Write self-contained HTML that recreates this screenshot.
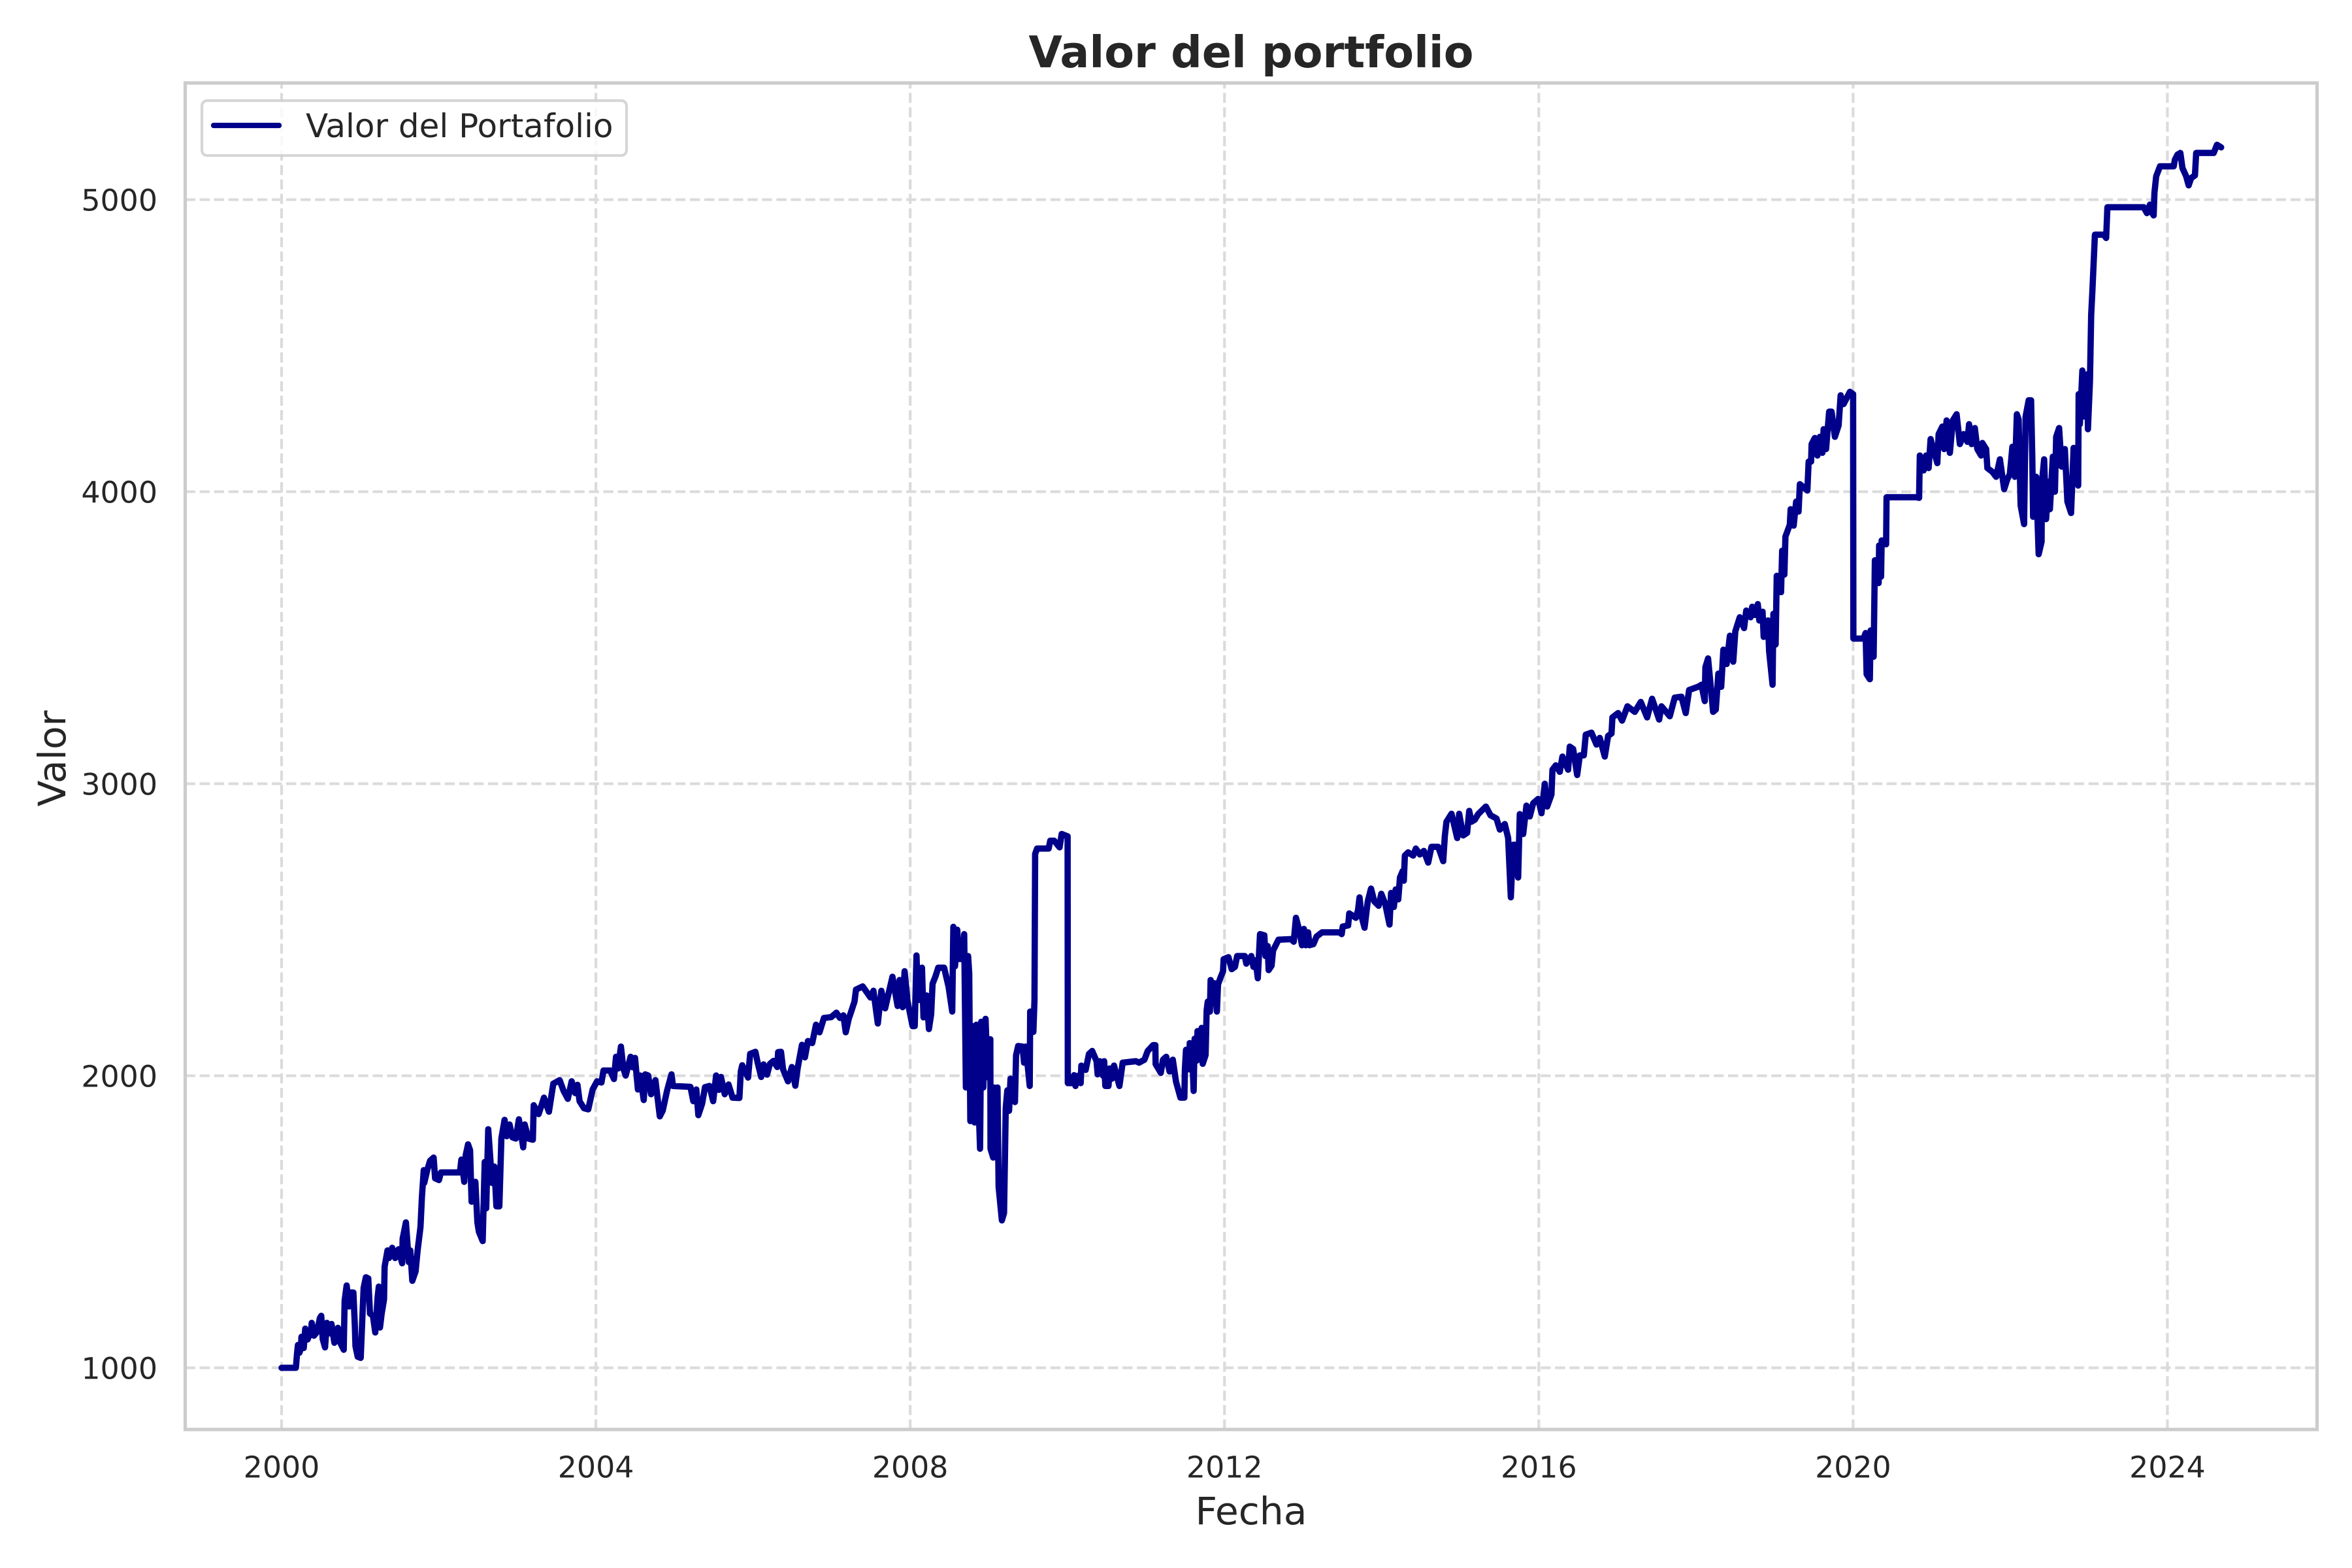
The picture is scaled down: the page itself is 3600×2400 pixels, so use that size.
<!DOCTYPE html>
<html lang="es">
<head>
<meta charset="utf-8">
<title>Valor del portfolio</title>
<style>
html,body{margin:0;padding:0;background:#fff;width:3600px;height:2400px;overflow:hidden}
svg{display:block}
text{font-family:"DejaVu Sans","Liberation Sans",sans-serif;fill:#262626}
</style>
</head>
<body>
<svg id="chart" xmlns="http://www.w3.org/2000/svg" width="3600" height="2400" viewBox="0 0 3600 2400">
  <rect x="0" y="0" width="3600" height="2400" fill="#ffffff"/>
  <g id="grid"></g>
  <path id="series" fill="none" stroke="#00008b" stroke-width="9.6" stroke-linejoin="round" stroke-linecap="round"/>
  <rect x="283.5" y="127" width="3263" height="2061" fill="none" stroke="#cccccc" stroke-width="5.2"/>
  <g id="ticks"></g>
  <text x="1915" y="103" font-size="66.67" font-weight="700" text-anchor="middle">Valor del portfolio</text>
  <text x="1915" y="2333" font-size="58.33" text-anchor="middle">Fecha</text>
  <text transform="translate(100 1161) rotate(-90)" font-size="58.33" text-anchor="middle">Valor</text>
  <g>
    <rect x="309" y="154" width="650" height="84" rx="8" ry="8" fill="#ffffff" fill-opacity="0.8" stroke="#cccccc" stroke-opacity="0.8" stroke-width="4.17"/>
    <line x1="327" y1="192" x2="427" y2="192" stroke="#00008b" stroke-width="8.33" stroke-linecap="round"/>
    <text x="468" y="210" font-size="50">Valor del Portafolio</text>
  </g>
</svg>
<script>
const fechas = [
2000.000,2000.182,2000.197,2000.208,2000.227,2000.245,2000.253,2000.282,2000.301,2000.331,2000.375,2000.383,2000.412,2000.449,2000.487,2000.505,2000.524,2000.553,2000.576,2000.617,2000.635,2000.672,2000.717,2000.747,2000.791,2000.802,2000.828,2000.858,2000.877,2000.914,2000.932,2000.940,2000.969,
2001.007,2001.025,2001.044,2001.073,2001.103,2001.125,2001.162,2001.192,2001.222,2001.237,2001.252,2001.274,2001.304,2001.311,2001.348,2001.367,2001.408,2001.445,2001.489,2001.534,2001.541,2001.582,2001.619,2001.638,2001.664,2001.705,2001.731,2001.768,2001.786,2001.809,2001.816,2001.853,2001.890,2001.935,2001.954,
2002.002,2002.028,2002.269,2002.288,2002.325,2002.344,2002.373,2002.399,2002.418,2002.466,2002.492,2002.511,2002.559,2002.585,2002.604,2002.630,2002.678,2002.708,2002.734,2002.771,2002.797,2002.838,2002.864,2002.901,2002.938,2002.982,
2003.020,2003.075,2003.094,2003.142,2003.198,2003.209,2003.272,2003.339,2003.402,2003.458,2003.539,2003.588,2003.643,2003.692,2003.736,2003.766,2003.792,2003.848,2003.903,2003.959,
2004.015,2004.071,2004.097,2004.182,2004.230,2004.256,2004.282,2004.319,2004.349,2004.379,2004.442,2004.468,2004.498,2004.535,2004.565,2004.609,2004.628,2004.665,2004.702,2004.758,2004.813,2004.851,2004.906,2004.962,2004.981,
2005.203,2005.240,2005.278,2005.304,2005.352,2005.389,2005.445,2005.493,2005.530,2005.566,2005.592,2005.640,2005.688,2005.740,2005.826,2005.844,2005.863,2005.937,2005.963,
2006.030,2006.059,2006.104,2006.134,2006.178,2006.215,2006.260,2006.308,2006.319,2006.356,2006.382,2006.445,2006.494,2006.538,2006.568,2006.623,2006.660,2006.698,2006.753,2006.801,2006.846,2006.902,2006.994,
2007.061,2007.106,2007.150,2007.180,2007.217,2007.291,2007.310,2007.395,2007.495,2007.532,2007.588,2007.633,2007.681,2007.774,2007.840,2007.866,2007.904,2007.929,2007.967,
2008.030,2008.058,2008.080,2008.100,2008.119,2008.150,2008.169,2008.211,2008.238,2008.266,2008.285,2008.321,2008.357,2008.432,2008.488,2008.535,2008.549,2008.571,2008.599,2008.618,2008.668,2008.687,2008.709,2008.737,2008.751,2008.765,2008.792,2008.820,2008.842,2008.862,2008.889,2008.903,2008.931,2008.959,2008.986,
2009.020,2009.022,2009.056,2009.070,2009.083,2009.111,2009.125,2009.167,2009.194,2009.216,2009.236,2009.258,2009.277,2009.333,2009.347,2009.374,2009.430,2009.449,2009.471,2009.521,2009.527,2009.568,2009.582,2009.590,2009.615,2009.762,2009.782,2009.832,2009.901,2009.928,
2010.003,2010.006,2010.053,2010.086,2010.103,2010.136,2010.170,2010.178,2010.233,2010.275,2010.316,2010.372,2010.386,2010.413,2010.455,2010.469,2010.483,2010.524,2010.538,2010.566,2010.594,2010.663,2010.704,2010.871,2010.912,2010.981,
2011.023,2011.092,2011.120,2011.123,2011.189,2011.217,2011.258,2011.300,2011.342,2011.383,2011.439,2011.489,2011.496,2011.510,2011.551,2011.557,2011.593,2011.607,2011.620,2011.648,2011.656,2011.690,2011.709,2011.723,2011.759,2011.773,2011.787,2011.814,2011.823,2011.842,2011.870,2011.903,2011.917,2011.953,2011.981,2011.989,
2012.050,2012.091,2012.133,2012.161,2012.258,2012.277,2012.341,2012.369,2012.396,2012.424,2012.452,2012.507,2012.521,2012.549,2012.562,2012.599,2012.618,2012.687,2012.848,2012.881,2012.909,2012.950,2012.986,
2013.011,2013.034,2013.064,2013.081,2013.131,2013.172,2013.241,2013.463,2013.491,2013.505,2013.574,2013.588,2013.671,2013.699,2013.718,2013.746,2013.782,2013.823,2013.865,2013.906,2013.962,2013.995,
2014.045,2014.100,2014.120,2014.156,2014.178,2014.211,2014.233,2014.267,2014.282,2014.295,2014.338,2014.401,2014.435,2014.486,2014.537,2014.592,2014.634,2014.719,2014.740,2014.783,2014.804,2014.825,2014.889,2014.961,2014.986,
2015.037,2015.088,2015.114,2015.143,2015.186,2015.228,2015.326,2015.385,2015.461,2015.504,2015.567,2015.610,2015.644,2015.673,2015.707,2015.737,2015.758,2015.801,2015.843,2015.885,2015.928,2015.992,
2016.034,2016.076,2016.106,2016.161,2016.174,2016.216,2016.267,2016.301,2016.373,2016.394,2016.437,2016.488,2016.522,2016.573,2016.598,2016.670,2016.734,2016.776,2016.840,2016.882,2016.925,2016.937,
2017.009,2017.060,2017.128,2017.221,2017.298,2017.378,2017.442,2017.531,2017.561,2017.667,2017.730,2017.815,2017.870,2017.913,
2018.027,2018.070,2018.112,2018.120,2018.154,2018.218,2018.252,2018.285,2018.321,2018.349,2018.390,2018.432,2018.474,2018.501,2018.557,2018.612,2018.640,2018.695,2018.715,2018.751,2018.787,2018.806,2018.848,2018.862,2018.917,2018.931,2018.975,2018.986,
2019.014,2019.028,2019.083,2019.097,2019.125,2019.139,2019.194,2019.205,2019.243,2019.275,2019.306,2019.322,2019.418,2019.434,2019.465,2019.472,2019.513,2019.545,2019.577,2019.609,2019.625,2019.656,2019.695,2019.726,2019.768,2019.815,2019.841,2019.879,2019.959,
2020.000,2020.003,2020.134,2020.159,2020.172,2020.213,2020.223,2020.261,2020.277,2020.325,2020.331,2020.356,2020.363,2020.420,2020.426,2020.802,2020.840,2020.849,2020.897,2020.929,2020.961,2020.986,
2021.072,2021.088,2021.136,2021.158,2021.190,2021.231,2021.269,2021.317,2021.359,2021.406,2021.454,2021.476,2021.508,2021.549,2021.581,2021.629,2021.645,2021.693,2021.709,2021.772,2021.820,2021.868,2021.922,2021.963,2021.995,
2022.027,2022.059,2022.084,2022.106,2022.132,2022.176,2022.195,2022.234,2022.265,2022.281,2022.291,2022.329,2022.361,2022.399,2022.402,2022.431,2022.456,2022.488,2022.504,2022.542,2022.568,2022.584,2022.622,2022.653,2022.695,2022.727,2022.774,2022.806,2022.864,2022.870,2022.886,2022.918,2022.949,2022.981,2022.988,
2023.014,2023.030,2023.045,2023.077,2023.189,2023.220,2023.236,2023.698,2023.739,2023.777,2023.793,2023.825,2023.835,2023.857,2023.905,
2024.080,2024.095,2024.127,2024.165,2024.191,2024.239,2024.270,2024.302,2024.350,2024.366,2024.589,2024.630,2024.684
];
const valores = [
1000,1000,1050,1078,1052,1066,1106,1068,1134,1097,1126,1154,1110,1122,1170,1178,1098,1070,1154,1118,1150,1086,1137,1086,1062,1230,1282,1210,1258,1258,1146,1074,1038,
1034,1154,1274,1310,1306,1186,1178,1121,1242,1278,1138,1186,1234,1346,1402,1376,1411,1376,1406,1358,1442,1498,1362,1402,1298,1330,1402,1482,1585,1677,1633,1677,1709,1720,1649,
1643,1669,1669,1713,1637,1729,1765,1745,1569,1637,1498,1466,1434,1705,1546,1817,1633,1689,1553,1553,1785,1849,1793,1833,1789,1785,
1851,1755,1833,1785,1781,1899,1869,1925,1877,1973,1985,1949,1921,1981,1941,1969,1913,1889,1885,1953,
1981,1977,2018,2018,1989,2065,2025,2100,2025,2001,2065,2029,2061,1953,2001,1917,2005,2001,1937,1985,1861,1881,1949,2005,1965,
1962,1913,1953,1865,1905,1961,1965,1913,2001,1952,1996,1937,1970,1925,1924,2015,2036,1994,2075,
2082,2045,1996,2039,2004,2041,2051,2030,2081,2082,2022,1981,2030,1966,2026,2106,2063,2119,2112,2175,2149,2198,2201,
2216,2198,2207,2149,2194,2254,2295,2306,2268,2291,2179,2291,2231,2339,2239,2328,2235,2358,2254,
2170,2170,2412,2260,2260,2370,2200,2275,2160,2210,2315,2340,2370,2370,2305,2220,2510,2375,2500,2400,2400,2485,1960,2410,2350,1845,2170,1840,2175,1970,1750,2185,1960,2195,1995,
2125,1750,1720,1960,1760,1960,1620,1505,1530,1890,1950,1880,1990,1910,2070,2102,2100,2045,2100,1965,2220,2150,2260,2760,2778,2778,2805,2805,2782,2828,
2820,1975,1975,2002,1965,2000,1975,2035,2020,2075,2085,2050,2005,2050,2000,2050,1965,1965,2025,1990,2035,1965,2045,2050,2045,2055,
2085,2105,2105,2040,2010,2055,2065,2015,2055,1980,1925,1925,2022,2089,2022,2112,2045,1948,2127,2052,2153,2089,2164,2041,2071,2224,2254,2220,2328,2261,2317,2220,2313,2339,2358,2399,
2406,2365,2373,2410,2410,2384,2410,2373,2395,2334,2485,2481,2410,2444,2362,2377,2429,2466,2468,2459,2541,2500,2447,
2503,2447,2491,2447,2451,2477,2491,2491,2485,2511,2515,2556,2541,2567,2611,2544,2507,2597,2641,2597,2582,2623,
2589,2518,2626,2578,2638,2604,2679,2701,2668,2754,2765,2754,2778,2758,2770,2730,2784,2784,2769,2735,2821,2870,2897,2814,2897,
2823,2832,2907,2870,2877,2896,2922,2892,2881,2843,2862,2814,2611,2791,2791,2679,2896,2828,2925,2888,2933,2948,
2899,3000,2922,2963,3048,3063,3041,3093,3048,3127,3119,3030,3097,3097,3168,3175,3134,3157,3093,3164,3172,3227,
3242,3216,3265,3246,3280,3227,3291,3220,3265,3231,3295,3298,3242,3321,
3332,3339,3283,3399,3429,3246,3254,3377,3332,3459,3410,3507,3418,3522,3570,3533,3593,3570,3606,3578,3615,3559,3589,3503,3559,3455,3339,3582,
3477,3712,3656,3798,3716,3846,3887,3940,3884,3966,3932,4026,4004,4103,4103,4163,4184,4124,4188,4133,4214,4146,4274,4274,4188,4227,4330,4300,4342,
4334,3497,3497,3516,3375,3358,3525,3435,3765,3687,3816,3709,3833,3820,3981,3981,3979,4124,4073,4124,4081,4180,
4098,4197,4223,4146,4244,4133,4244,4265,4163,4197,4171,4231,4163,4218,4146,4124,4167,4146,4081,4068,4051,4111,4009,4043,4060,
4154,4051,4265,4248,3953,3889,4257,4313,4313,4111,3914,4051,3786,3829,4030,4111,3906,4034,3940,4120,4000,4188,4218,4086,4146,3966,3927,4150,4021,4334,4231,4415,4257,4402,4214,
4378,4606,4686,4880,4880,4869,4974,4974,4954,4983,4960,4946,5023,5080,5114,
5114,5137,5154,5160,5108,5080,5049,5074,5083,5160,5160,5188,5179
];
const xTickYears = [2000,2004,2008,2012,2016,2020,2024];
const yTickValues = [1000,2000,3000,4000,5000];

const SVG_NS = 'http://www.w3.org/2000/svg';
const plot = {left:283.5, right:3546.5, top:127, bottom:2188};
function xScale(year){ return 431 + (year - 2000) * 120.27; }
function yScale(value){ return 2093.6 - (value - 1000) * 0.447; }

const gridGroup = document.getElementById('grid');
const tickGroup = document.getElementById('ticks');

function gridLine(x1, y1, x2, y2){
  const l = document.createElementNS(SVG_NS, 'line');
  l.setAttribute('x1', x1);
  l.setAttribute('y1', y1);
  l.setAttribute('x2', x2);
  l.setAttribute('y2', y2);
  l.setAttribute('stroke', '#dbdbdb');
  l.setAttribute('stroke-width', '4.17');
  l.setAttribute('stroke-dasharray', '15.4 6.67');
  gridGroup.appendChild(l);
  return l;
}
function tickText(x, y, anchor, str){
  const t = document.createElementNS(SVG_NS, 'text');
  t.setAttribute('x', x);
  t.setAttribute('y', y);
  t.setAttribute('font-size', '45.83');
  t.setAttribute('text-anchor', anchor);
  t.textContent = str;
  tickGroup.appendChild(t);
  return t;
}
xTickYears.forEach(function(yr){
  const g = gridLine(xScale(yr), plot.bottom, xScale(yr), plot.top);
  
  
  const t = tickText(xScale(yr), 2261.5, 'middle', String(yr));
  
  
});
yTickValues.forEach(function(v){
  const g = gridLine(plot.left, yScale(v), plot.right, yScale(v));
  
  
  const t = tickText(241, yScale(v) + 16.8, 'end', String(v));
  
  
});

let d = '';
const n = Math.min(fechas.length, valores.length);
for (let i = 0; i < n; i++) {
  d += (i ? 'L' : 'M') + xScale(fechas[i]).toFixed(1) + ' ' + yScale(valores[i]).toFixed(1);
}
document.getElementById('series').setAttribute('d', d);
</script>
</body>
</html>
